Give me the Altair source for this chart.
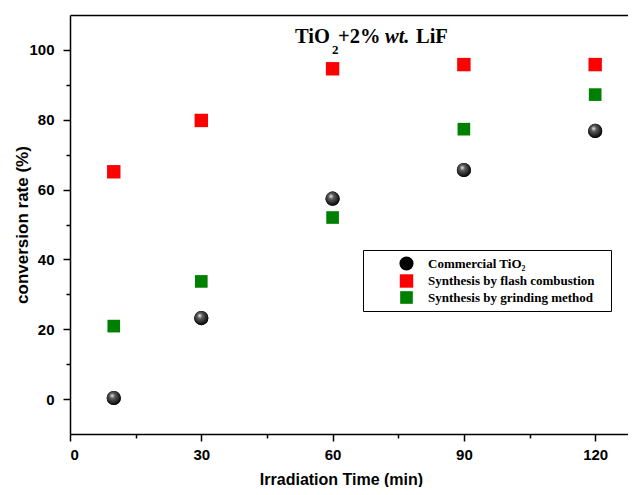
import altair as alt
import pandas as pd

time_min = [10, 30, 60, 90, 120]
commercial = [0.3, 23.2, 57.4, 65.6, 76.8]
flash = [65.1, 79.8, 94.6, 95.8, 95.8]
grinding = [20.9, 33.7, 52.0, 77.3, 87.2]
series_names = ["Commercial TiO\u2082", "Synthesis by flash combustion", "Synthesis by grinding method"]
series_colors = ["#000000", "#ff0000", "#008000"]
series_shapes = ["circle", "square", "square"]
series_sizes = [200, 160, 160]

x_ticks = [0, 15, 30, 45, 60, 75, 90, 105, 120]
y_ticks = [0, 10, 20, 30, 40, 50, 60, 70, 80, 90, 100]

rows = []
for name, vals in zip(series_names, [commercial, flash, grinding]):
    for t, v in zip(time_min, vals):
        rows.append({"time": t, "rate": v, "series": name})
df = pd.DataFrame(rows)
df_comm = df[df["series"] == series_names[0]]

xscale = alt.Scale(domain=[0, 127.5], nice=False, zero=False)
yscale = alt.Scale(domain=[-10, 110], nice=False, zero=False)

common_axis = dict(
    grid=False, domainColor="black", domainWidth=1.5, tickColor="black", tickWidth=1.5,
    labelFont="Liberation Sans", labelFontWeight="bold", labelFontSize=15, labelColor="black",
    titleFont="Liberation Sans", titleFontWeight="bold", titleColor="black",
)

xaxis = alt.Axis(
    values=x_ticks, labelExpr="datum.value % 30 == 0 ? datum.label : ''",
    tickSize={"condition": {"test": "datum.value % 30 == 0", "value": 7}, "value": 4},
    labelPadding=6, titlePadding=9, titleX=271, titleFontSize=16,
    title="Irradiation Time (min)", **common_axis,
)
yaxis = alt.Axis(
    values=y_ticks, labelExpr="datum.value % 20 == 0 ? datum.label : ''",
    tickSize={"condition": {"test": "datum.value % 20 == 0", "value": 7}, "value": 4},
    labelPadding=9, titleX=-48, titleBaseline="middle", titleFontSize=17,
    title="conversion rate (%)", **common_axis,
)

legend = alt.Legend(
    orient="none", legendX=293, legendY=235, title=None, strokeColor="black", fillColor="white",
    padding=6, labelFont="Liberation Serif", labelFontWeight="bold", labelFontSize=13,
    labelColor="black", symbolSize=70, symbolStrokeWidth=0, labelOffset=14, rowPadding=3,
    symbolOffset=30, cornerRadius=0, labelLimit=400,
    labelExpr="datum.label + '\u2800'",
)

points = alt.Chart(df).mark_point(filled=True, opacity=1, strokeWidth=0).encode(
    x=alt.X("time:Q", scale=xscale, axis=xaxis),
    y=alt.Y("rate:Q", scale=yscale, axis=yaxis),
    color=alt.Color("series:N", scale=alt.Scale(domain=series_names, range=series_colors), legend=legend),
    shape=alt.Shape("series:N", scale=alt.Scale(domain=series_names, range=series_shapes), legend=legend),
    size=alt.Size("series:N", scale=alt.Scale(domain=series_names, range=series_sizes), legend=None),
)

top = alt.Chart(df_comm).mark_point(opacity=0).encode(
    x=alt.X("time:Q", scale=xscale,
            axis=alt.Axis(orient="top", labels=False, ticks=False, title=None, grid=False,
                          domainColor="black", domainWidth=1.5)),
    y=alt.Y("rate:Q", scale=yscale, axis=yaxis),
)

sphere = alt.RadialGradient(
    gradient="radial",
    stops=[alt.GradientStop(offset=0, color="#f6f6f6"),
           alt.GradientStop(offset=0.3, color="#606060"),
           alt.GradientStop(offset=1, color="#000000")],
    x1=0.38, y1=0.32, r1=0, x2=0.45, y2=0.42, r2=0.6,
)
spheres = alt.Chart(df_comm).mark_point(
    filled=True, shape="circle", size=200, fill=sphere, opacity=1, strokeWidth=0
).encode(
    x=alt.X("time:Q", scale=xscale, axis=None),
    y=alt.Y("rate:Q", scale=yscale, axis=yaxis),
)

title_parts = [
    ("TiO", 225, 28, 20.5, "normal"),
    ("2", 262, 39, 13, "normal"),
    ("+2%", 268, 28, 20.5, "normal"),
    ("wt.", 315, 28, 20.5, "italic"),
    ("LiF", 346, 28, 20.5, "normal"),
]
texts = []
for txt, px, py, fs, style in title_parts:
    texts.append(
        alt.Chart(pd.DataFrame({"t": [txt]})).mark_text(
            font="Liberation Serif", fontWeight="bold", fontSize=fs, fontStyle=style,
            align="left", baseline="alphabetic", color="black",
        ).encode(x=alt.value(px), y=alt.value(py), text="t:N")
    )

chart = alt.layer(points, top, spheres, *texts).resolve_axis(x="independent").properties(
    width=558, height=419, autosize=alt.AutoSizeParams(type="none"),
    padding={"left": 62, "top": 7, "right": 0, "bottom": 53},
).configure_view(stroke=None)

chart.save("out.html", embed_options={"renderer": "svg", "actions": False})
